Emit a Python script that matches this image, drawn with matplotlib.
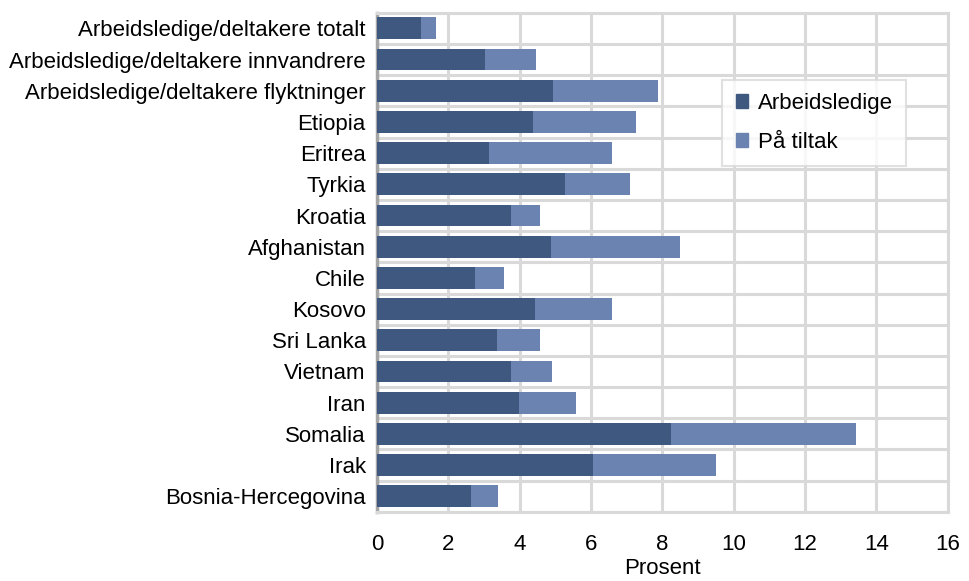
import numpy as np
import matplotlib.pyplot as plt
from matplotlib.patches import Patch

plt.rcParams['font.family'] = ['Liberation Sans', 'DejaVu Sans']

categories = [
    'Arbeidsledige/deltakere totalt',
    'Arbeidsledige/deltakere innvandrere',
    'Arbeidsledige/deltakere flyktninger',
    'Etiopia', 'Eritrea', 'Tyrkia', 'Kroatia', 'Afghanistan', 'Chile',
    'Kosovo', 'Sri Lanka', 'Vietnam', 'Iran', 'Somalia', 'Irak',
    'Bosnia-Hercegovina',
]
arbeidsledige = [1.23, 3.03, 4.93, 4.37, 3.14, 5.27, 3.76, 4.88, 2.75,
                 4.43, 3.36, 3.76, 3.98, 8.24, 6.06, 2.64]
totalt = [1.65, 4.46, 7.88, 7.26, 6.59, 7.09, 4.57, 8.49, 3.56,
          6.59, 4.57, 4.91, 5.58, 13.43, 9.50, 3.39]
paa_tiltak = [t - a for t, a in zip(totalt, arbeidsledige)]

dark = '#3F5880'
light = '#6A83B0'
gridc = '#D9D9D9'
fs = 16

fig = plt.figure(figsize=(9.69, 5.81), dpi=100)
ax = fig.add_axes([0.389, 0.119, 0.589, 0.859])

y = np.arange(len(categories))
ax.barh(y, arbeidsledige, height=0.7, color=dark, zorder=3)
ax.barh(y, paa_tiltak, left=arbeidsledige, height=0.7, color=light, zorder=3)

ax.set_xlim(0, 16)
ax.set_ylim(len(categories) - 0.5, -0.5)
ax.set_xticks(np.arange(0, 17, 2))
ax.set_yticks(y)
ax.set_yticklabels(categories)
ax.set_yticks(np.arange(-0.5, len(categories), 1), minor=True)
ax.tick_params(axis='both', which='both', length=0, labelsize=fs)
ax.tick_params(axis='y', which='major', pad=8)
ax.tick_params(axis='x', which='major', pad=16)
ax.tick_params(axis='y', which='minor', labelleft=False)
ax.grid(axis='x', which='major', color=gridc, linewidth=2.2, zorder=0)
ax.grid(axis='y', which='minor', color=gridc, linewidth=2.2, zorder=0)
ax.set_axisbelow(True)

for s in ['top', 'right', 'bottom']:
    ax.spines[s].set_color(gridc)
    ax.spines[s].set_linewidth(2.2)
ax.spines['left'].set_color('#A6A6A6')
ax.spines['left'].set_linewidth(2.5)

ax.set_xlabel('Prosent', fontsize=fs, labelpad=2)

handles = [Patch(color=dark, label='Arbeidsledige'),
           Patch(color=light, label='På tiltak')]
leg = ax.legend(handles=handles, loc='upper left', bbox_to_anchor=(0.605, 0.866),
                fontsize=fs, frameon=True, fancybox=False, handlelength=0.55,
                handleheight=0.55, handletextpad=0.45, labelspacing=0.8,
                borderpad=0.6, borderaxespad=0)
leg.get_frame().set_edgecolor(gridc)
leg.get_frame().set_linewidth(1.5)

fig.savefig('out.png', dpi=100)
